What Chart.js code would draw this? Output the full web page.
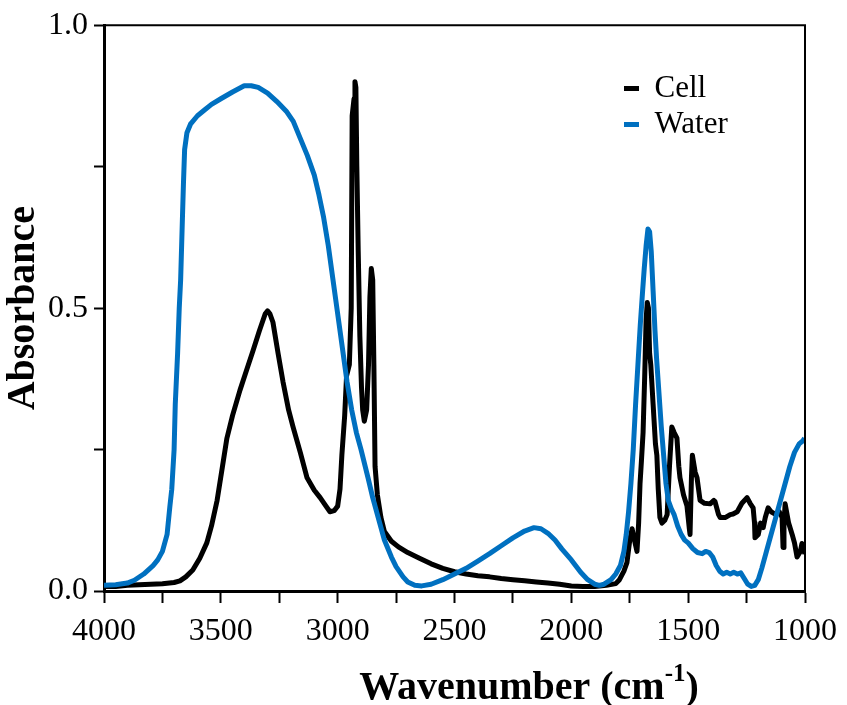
<!DOCTYPE html>
<html>
<head>
<meta charset="utf-8">
<script src="https://cdn.jsdelivr.net/npm/chart.js@4.4.1/dist/chart.umd.min.js"></script>
<style>
  html, body { margin: 0; padding: 0; background: #fff; }
  #wrap { width: 847px; height: 705px; position: relative; }
</style>
</head>
<body>
<div id="wrap"><canvas id="c" width="847" height="705"></canvas></div>
<script>
// ---- Data ----
const seriesNames = ['Cell', 'Water'];

const cellWavenumber = [4000,3950,3900,3850,3800,3750,3700,3675,3650,3620,3590,3560,3540,3516,3495,3474,3450,3418,3390,3362,3335,3310,3300,3290,3277,3255,3234,3210,3191,3160,3131,3100,3075,3050,3033,3015,3000,2990,2982,2970,2962,2950,2942,2938,2930,2926,2922,2918,2912,2905,2898,2893,2886,2876,2868,2862,2856,2850,2845,2840,2830,2815,2800,2770,2740,2700,2650,2600,2550,2500,2450,2400,2350,2300,2250,2200,2150,2100,2050,2000,1950,1900,1850,1810,1794,1775,1762,1750,1740,1730,1719,1712,1706,1700,1693,1686,1680,1675,1670,1665,1660,1650,1640,1634,1628,1621,1612,1600,1590,1580,1570,1560,1548,1540,1535,1520,1505,1495,1492,1486,1482,1470,1462,1449,1430,1406,1390,1385,1370,1363,1340,1320,1308,1290,1270,1248,1235,1222,1216,1214,1200,1190,1179,1170,1158,1145,1128,1110,1098,1094,1090,1085,1070,1055,1045,1034,1020,1013,1005,1000];
const cellAbsorbance = [0.008,0.008,0.01,0.011,0.012,0.013,0.015,0.018,0.025,0.037,0.058,0.085,0.115,0.16,0.215,0.27,0.31,0.355,0.39,0.425,0.46,0.49,0.495,0.49,0.475,0.42,0.37,0.32,0.29,0.245,0.2,0.178,0.165,0.15,0.14,0.142,0.15,0.18,0.24,0.31,0.38,0.40,0.50,0.84,0.87,0.90,0.89,0.75,0.60,0.45,0.36,0.32,0.30,0.32,0.40,0.52,0.57,0.55,0.40,0.22,0.17,0.13,0.105,0.088,0.078,0.068,0.058,0.048,0.04,0.034,0.03,0.027,0.025,0.022,0.02,0.018,0.016,0.014,0.012,0.009,0.008,0.008,0.01,0.013,0.02,0.035,0.05,0.09,0.11,0.09,0.07,0.12,0.19,0.23,0.28,0.38,0.48,0.51,0.50,0.42,0.40,0.33,0.26,0.24,0.18,0.13,0.12,0.125,0.135,0.22,0.29,0.28,0.27,0.22,0.20,0.17,0.15,0.11,0.10,0.20,0.24,0.21,0.20,0.16,0.155,0.154,0.16,0.158,0.135,0.13,0.13,0.135,0.136,0.14,0.155,0.165,0.155,0.147,0.12,0.094,0.10,0.12,0.112,0.13,0.147,0.14,0.136,0.14,0.13,0.077,0.12,0.154,0.12,0.10,0.085,0.06,0.07,0.084,0.07,0.066];

const waterWavenumber = [4000,3950,3900,3870,3830,3790,3770,3750,3730,3718,3710,3700,3695,3685,3678,3672,3665,3660,3655,3645,3630,3600,3570,3540,3500,3450,3400,3370,3340,3300,3260,3220,3190,3160,3130,3100,3080,3060,3040,3020,3000,2980,2960,2940,2920,2900,2870,2850,2820,2800,2770,2750,2720,2700,2670,2640,2600,2550,2500,2450,2400,2350,2300,2250,2200,2160,2130,2100,2070,2040,2000,1960,1930,1900,1880,1860,1830,1810,1790,1775,1765,1755,1745,1735,1725,1715,1705,1695,1688,1680,1672,1665,1658,1650,1642,1635,1625,1615,1605,1595,1585,1572,1560,1545,1530,1515,1500,1480,1460,1440,1425,1410,1395,1380,1365,1350,1335,1320,1305,1290,1275,1260,1245,1230,1215,1200,1185,1165,1145,1125,1105,1085,1065,1045,1025,1010,1002];
const waterAbsorbance = [0.01,0.011,0.014,0.019,0.03,0.045,0.055,0.07,0.1,0.15,0.18,0.25,0.33,0.42,0.5,0.55,0.65,0.72,0.78,0.81,0.825,0.84,0.85,0.86,0.87,0.882,0.893,0.893,0.89,0.88,0.865,0.848,0.83,0.80,0.77,0.735,0.70,0.66,0.61,0.55,0.49,0.43,0.37,0.32,0.28,0.25,0.2,0.165,0.12,0.09,0.06,0.043,0.025,0.016,0.01,0.009,0.012,0.02,0.03,0.04,0.053,0.066,0.08,0.094,0.106,0.112,0.11,0.102,0.09,0.074,0.055,0.033,0.02,0.012,0.01,0.012,0.02,0.03,0.045,0.07,0.1,0.14,0.19,0.25,0.33,0.4,0.47,0.53,0.57,0.61,0.64,0.635,0.6,0.53,0.46,0.41,0.35,0.29,0.24,0.19,0.16,0.145,0.135,0.115,0.1,0.09,0.085,0.075,0.068,0.066,0.07,0.068,0.06,0.045,0.035,0.03,0.033,0.03,0.033,0.03,0.032,0.022,0.012,0.008,0.01,0.02,0.04,0.07,0.1,0.13,0.16,0.19,0.22,0.245,0.26,0.265,0.27];

const xAxisTitle = 'Wavenumber (cm';
const xAxisTitleSup = '-1';
const xAxisTitleTail = ')';
const yAxisTitle = 'Absorbance';

const seriesColors = ['#000000', '#0070c0'];

// ---- Build ----
const toPoints = (xs, ys) => xs.map((x, i) => ({ x: x, y: ys[i] }));
const FONT = "'Liberation Serif', 'Times New Roman', Times, serif";

const framePlugin = {
  id: 'frame',
  afterDatasetsDraw(chart) {
    const { ctx, chartArea: a } = chart;
    ctx.save();
    ctx.strokeStyle = '#000';
    ctx.lineWidth = 2;
    ctx.beginPath();
    ctx.moveTo(a.left, a.top);
    ctx.lineTo(a.right, a.top);
    ctx.lineTo(a.right, a.bottom);
    ctx.stroke();
    ctx.restore();
  }
};

const legendPlacer = {
  id: 'legendPlacer',
  afterLayout(chart) {
    const l = chart.legend;
    if (!l) return;
    const w = l.width, h = l.height;
    l.left = 619; l.top = 68;
    l.right = l.left + w; l.bottom = l.top + h;
  }
};

const xTitlePlugin = {
  id: 'xTitle',
  afterDraw(chart) {
    const ctx = chart.ctx;
    ctx.save();
    ctx.fillStyle = '#000';
    ctx.textBaseline = 'alphabetic';
    ctx.textAlign = 'left';
    const mainFont = 'bold 40px ' + FONT;
    const supFont = 'bold 25px ' + FONT;
    ctx.font = mainFont;
    const w1 = ctx.measureText(xAxisTitle).width;
    const w3 = ctx.measureText(xAxisTitleTail).width;
    ctx.font = supFont;
    const w2 = ctx.measureText(xAxisTitleSup).width;
    const total = w1 + w2 + w3;
    let x = 529 - total / 2;
    const base = 699;
    ctx.font = mainFont;
    ctx.fillText(xAxisTitle, x, base);
    x += w1;
    ctx.font = supFont;
    ctx.fillText(xAxisTitleSup, x, base - 18);
    x += w2;
    ctx.font = mainFont;
    ctx.fillText(xAxisTitleTail, x, base);
    ctx.restore();
  }
};

new Chart(document.getElementById('c'), {
  type: 'line',
  data: {
    datasets: [
      {
        label: seriesNames[0],
        data: toPoints(cellWavenumber, cellAbsorbance),
        borderColor: seriesColors[0],
        backgroundColor: seriesColors[0],
        borderWidth: 5,
        pointRadius: 0,
        tension: 0,
        fill: false,
        borderJoinStyle: 'round',
        borderCapStyle: 'butt',
        order: 1
      },
      {
        label: seriesNames[1],
        data: toPoints(waterWavenumber, waterAbsorbance),
        borderColor: seriesColors[1],
        backgroundColor: seriesColors[1],
        borderWidth: 5,
        pointRadius: 0,
        tension: 0,
        fill: false,
        borderJoinStyle: 'round',
        borderCapStyle: 'butt',
        order: 0
      }
    ]
  },
  options: {
    responsive: false,
    animation: false,
    devicePixelRatio: 1,
    layout: { padding: { left: 0, right: 42, top: 19, bottom: 0 } },
    plugins: {
      tooltip: { enabled: false },
      legend: {
        display: true,
        position: 'chartArea',
        align: 'start',
        labels: {
          usePointStyle: true,
          pointStyle: 'line',
          pointStyleWidth: 15,
          boxHeight: 10,
          padding: 5,
          color: '#000',
          font: { family: FONT, size: 31 },
          sort: (a, b) => a.datasetIndex - b.datasetIndex
        }
      }
    },
    scales: {
      x: {
        type: 'linear',
        position: 'bottom',
        min: 1000,
        max: 4000,
        reverse: true,
        afterFit: (s) => { s.height = 114; },
        border: { display: true, color: '#000', width: 3 },
        grid: { drawOnChartArea: false, drawTicks: true, tickLength: 12, tickWidth: 2, tickColor: '#000' },
        ticks: {
          stepSize: 250,
          autoSkip: false,
          maxRotation: 0,
          padding: 9,
          color: '#000',
          font: { family: FONT, size: 32 },
          callback: (v) => (v % 500 === 0 ? String(v) : '')
        },
        title: { display: false }
      },
      y: {
        type: 'linear',
        position: 'left',
        min: 0,
        max: 1,
        afterFit: (s) => { s.width = 104; },
        border: { display: true, color: '#000', width: 3 },
        grid: { drawOnChartArea: false, drawTicks: true, tickLength: 10, tickWidth: 2, tickColor: '#000' },
        ticks: {
          stepSize: 0.25,
          padding: 6,
          color: '#000',
          font: { family: FONT, size: 32 },
          callback: (v) => (Math.abs(v * 2 - Math.round(v * 2)) < 1e-9 ? v.toFixed(1) : '')
        },
        title: {
          display: true,
          text: yAxisTitle,
          color: '#000',
          padding: 0,
          font: { family: FONT, size: 40, weight: 'bold' }
        }
      }
    }
  },
  plugins: [framePlugin, legendPlacer, xTitlePlugin]
});
</script>
</body>
</html>
